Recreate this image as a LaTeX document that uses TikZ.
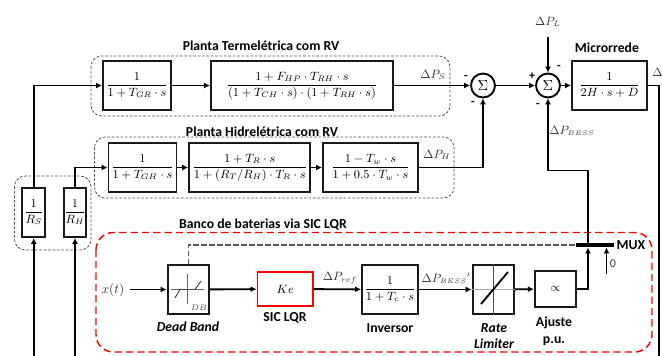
\documentclass[tikz,border=0pt]{standalone}
\usepackage{amsmath}
\usepackage{fontspec}
\setmainfont{Carlito}
\usetikzlibrary{arrows.meta}

\tikzset{
	bloco/.style={draw=black!90, line width=1.4pt, inner sep=0pt, minimum height=36.75pt, fill=white, text=black, font=\fontsize{8.6}{10}\selectfont},
	somador/.style={circle, draw=black, line width=1.4pt, inner sep=0pt, minimum size=18pt, fill=white, font=\fontsize{10.5}{11}\selectfont},
	grupo/.style={draw=black!70, dash pattern=on 2pt off 1.3pt, line width=.6pt, rounded corners=8pt},
	titulo/.style={font=\bfseries\fontsize{10.3}{11}\selectfont, text=black, inner sep=0pt},
	sinal/.style={font=\fontsize{9}{10}\selectfont, text=black!80, inner sep=0pt},
	seta/.style={line width=1.4pt, -{Latex[length=4.5pt,width=4.5pt]}},
	linha/.style={line width=1.4pt}
}

\begin{document}
\begin{tikzpicture}[x=.75pt,y=-.75pt]
	\useasboundingbox (0,0) rectangle (662,356);

	% grupos tracejados
	\draw[grupo] (91,56) rectangle (450,116);
	\draw[grupo] (94.5,137) rectangle (454,198);
	\draw[grupo] (14.5,176) rectangle (91,250);
	\draw[red, dash pattern=on 5.5pt off 3pt, line width=1.1pt, rounded corners=13pt] (96,232.5) rectangle (652,352);

	% titulos
	\node[titulo] (tTermica) at (261,46) {Planta Termelétrica com RV};
	\node[titulo] (tHidrica) at (262,132) {Planta Hidrelétrica com RV};
	\node[titulo] (tBanco) at (263,225) {Banco de baterias via SIC LQR};
	\node[titulo] (tRede) at (607,48) {Microrrede};

	% planta termica
	\node[bloco, minimum width=51pt] (gr) at (137,85.5) {$\dfrac{1}{1+T_{GR}\cdot s}$};
	\node[bloco, minimum width=136.5pt] (ch) at (302,85.5) {$\dfrac{1+F_{HP}\cdot T_{RH}\cdot s}{(1+T_{CH}\cdot s)\cdot(1+T_{RH}\cdot s)}$};

	% planta hidrica
	\node[bloco, minimum width=51pt] (gh) at (142.5,167.5) {$\dfrac{1}{1+T_{GH}\cdot s}$};
	\node[bloco, minimum width=91pt] (tr) at (249.75,167.5) {$\dfrac{1+T_{R}\cdot s}{1+(R_{T}/R_{H})\cdot T_{R}\cdot s}$};
	\node[bloco, minimum width=71.25pt] (tw) at (370.5,167.5) {$\dfrac{1-T_{w}\cdot s}{1+0.5\cdot T_{w}\cdot s}$};

	% rede
	\node[somador] (sum1) at (483,85.5) {$\Sigma$};
	\node[somador] (sum2) at (548,85.5) {$\Sigma$};
	\node[bloco, minimum width=56.25pt] (rede) at (609.5,85.5) {$\dfrac{1}{2H\cdot s+D}$};

	% ganhos
	\node[bloco, minimum width=17pt] (rs) at (33.75,212.5) {$\dfrac{1}{R_{S}}$};
	\node[bloco, minimum width=17pt] (rh) at (75,212.5) {$\dfrac{1}{R_{H}}$};

	% banco de baterias
	\node[bloco, minimum width=31pt] (db) at (188.25,289.5) {};
	\node[bloco, draw=red, minimum width=41.6pt, minimum height=25.5pt] (ke) at (285.25,289) {$Ke$};
	\node[bloco, minimum width=42pt] (inv) at (390,289.5) {$\dfrac{1}{1+T_{c}\cdot s}$};
	\node[bloco, minimum width=31pt] (rate) at (493.25,289.5) {};
	\node[bloco, minimum width=31pt, minimum height=27pt] (aj) at (555.5,289) {$\propto$};

	% desenho da banda morta
	\draw[black!60, line width=.4pt] (171,289.5) -- (204,289.5) (187.7,274) -- (187.7,304);
	\draw[black!75, line width=.7pt] (175,298) -- (180,289.5) -- (195,289.5) -- (201,281);
	\node[font=\fontsize{6}{7}\selectfont, text=black!70, inner sep=0pt] (dbTxt) at (199,308) {$DB$};

	% desenho do limitador
	\draw[black!35, line width=.6pt] (rate.west) -- (rate.east);
	\draw[black!70, line width=.4pt] (rate.north) -- (rate.south);
	\draw[black, line width=1.4pt] (481,304) -- (508,272);

	% legendas dos blocos
	\node[titulo, font=\bfseries\itshape\fontsize{10.3}{11}\selectfont] (lDb) at (188,327) {Dead Band};
	\node[titulo] (lKe) at (285,318) {SIC LQR};
	\node[titulo] (lInv) at (390,328) {Inversor};
	\node[titulo, font=\bfseries\itshape\fontsize{10.3}{12.5}\selectfont, align=center] (lRate) at (494,336) {Rate\\Limiter};
	\node[titulo, align=center, font=\bfseries\fontsize{10.3}{12.5}\selectfont] (lAj) at (554,331) {Ajuste\\p.u.};

	% mux
	\coordinate (muxA) at (576,245);
	\coordinate (muxB) at (614,245);
	\coordinate (muxS) at (588,245);
	\coordinate (muxE) at (588,247.5);
	\coordinate (muxZ) at (606.5,247.5);
	\coordinate (zero) at (606.5,274);
	\draw[line width=2.6pt] (muxA) -- (muxB);
	\node[titulo] (lMux) at (631,245) {MUX};
	\node[sinal] (lZero) at (613,264) {0};

	% ligacoes
	\draw[seta] (gr) -- (ch);
	\draw[seta] (ch) -- (sum1);
	\draw[seta] (gh) -- (tr);
	\draw[seta] (tr) -- (tw);
	\draw[seta] (tw.east) -| (sum1.south);
	\draw[seta] (sum1) -- (sum2);
	\draw[seta] (sum2) -- (rede);
	\draw[seta] (rs.north) |- (gr.west);
	\draw[seta] (rh.north) |- (gh.west);
	\coordinate (entS) at (33.75,356);
	\coordinate (entH) at (75,356);
	\draw[seta] (entS) -- (rs.south);
	\draw[seta] (entH) -- (rh.south);
	\coordinate (carga) at (548,37);
	\draw[seta] (carga) -- (sum2.north);
	\coordinate (saida) at (659,356);
	\draw[linha] (rede.east) -| (saida);
	\coordinate (bessT) at (588,170.5);
	\draw[seta] (muxS) -- (bessT) -| (sum2.south);
	\coordinate (xt) at (130,289.5);
	\draw[seta] (xt) -- (db);
	\draw[seta] (db) -- (ke);
	\draw[seta] (ke) -- (inv);
	\draw[seta] (inv) -- (rate);
	\draw[seta] (rate) -- (aj);
	\draw[seta] (aj.east) -| (muxE);
	\draw[seta] (zero) -- (muxZ);
	\draw[black!65, dash pattern=on 4pt off 2pt, line width=1pt] (db.north) |- (muxA);

	% sinais
	\node[sinal] (lPs) at (433,75) {$\Delta P_{S}$};
	\node[sinal] (lPh) at (437,155) {$\Delta P_{H}$};
	\node[sinal] (lPl) at (548,22) {$\Delta P_{L}$};
	\node[sinal] (lPb) at (572,131) {$\Delta P_{\scriptscriptstyle BESS}$};
	\node[sinal] (lPr) at (340,278) {$\Delta P_{ref}$};
	\node[sinal] (lPbl) at (446,278) {$\Delta P_{\scriptscriptstyle BESS}{}'$};
	\node[sinal, anchor=west] (lPf) at (652,72) {$\Delta$};
	\node[sinal, font=\fontsize{10}{11}\selectfont] (lX) at (113,290) {$x(t)$};

	\foreach \a/\b/\s in {466/77/-,473/103/-,532/76/+,559/67/-,538/105/-}
		\node[font=\bfseries\fontsize{9}{10}\selectfont, inner sep=0pt] at (\a,\b) {\s};

\end{tikzpicture}
\end{document}
